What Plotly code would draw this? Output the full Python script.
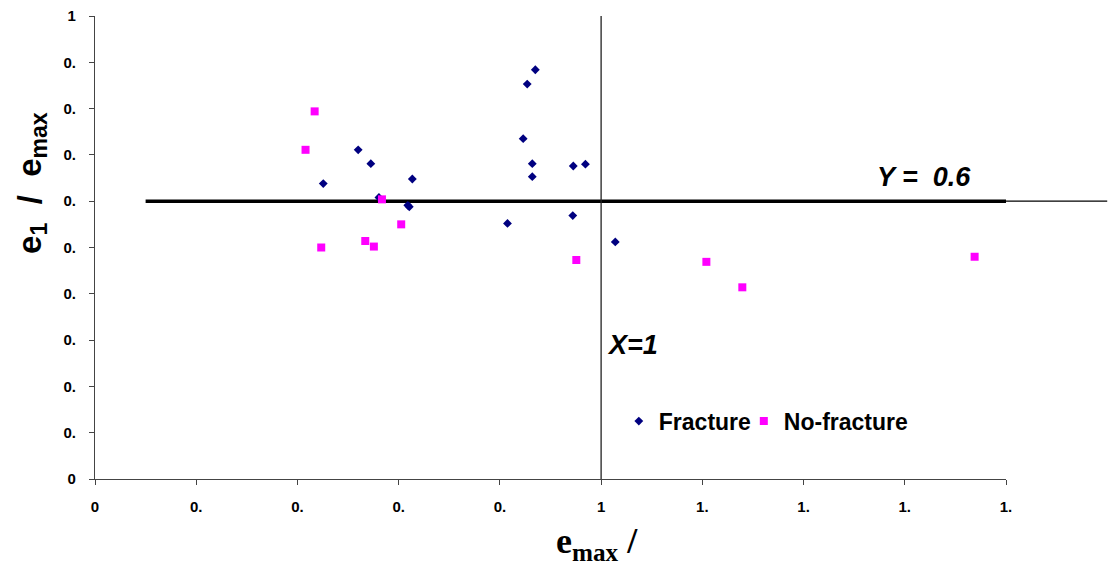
import plotly.graph_objects as go

# ---- data ----
fracture_x = [0.451, 0.520, 0.545, 0.561, 0.618, 0.621, 0.627, 0.815, 0.846,
              0.854, 0.870, 0.864, 0.864, 0.944, 0.945, 0.969, 1.028]
fracture_y = [0.638, 0.711, 0.681, 0.608, 0.591, 0.588, 0.648, 0.552, 0.735,
              0.853, 0.884, 0.681, 0.653, 0.569, 0.676, 0.680, 0.512]

nofracture_x = [0.416, 0.434, 0.447, 0.534, 0.551, 0.567, 0.605, 0.951,
                1.208, 1.279, 1.738]
nofracture_y = [0.711, 0.794, 0.500, 0.514, 0.502, 0.604, 0.550, 0.473,
                0.469, 0.414, 0.480]

limit_line_x = [0.1, 1.8]
limit_line_y = [0.6, 0.6]
vert_line_x = [1.0, 1.0]
vert_line_y = [0.0, 1.0]

x_tickvals = [0, 0.2, 0.4, 0.6, 0.8, 1.0, 1.2, 1.4, 1.6, 1.8]
x_ticktext = ["0", "0.", "0.", "0.", "0.", "1", "1.", "1.", "1.", "1."]
y_tickvals = [0, 0.1, 0.2, 0.3, 0.4, 0.5, 0.6, 0.7, 0.8, 0.9, 1.0]
y_ticktext = ["0", "0.", "0.", "0.", "0.", "0.", "0.", "0.", "0.", "0.", "1"]

SANS = "Liberation Sans, Arial, sans-serif"
SERIF = "Liberation Serif, Times New Roman, serif"

fig = go.Figure()

fig.add_trace(go.Scatter(x=limit_line_x, y=limit_line_y, mode="lines",
                         line=dict(color="black", width=3.5),
                         showlegend=False, hoverinfo="skip"))
fig.add_trace(go.Scatter(x=vert_line_x, y=vert_line_y, mode="lines",
                         line=dict(color="#222222", width=1.3),
                         showlegend=False, hoverinfo="skip"))

fig.add_trace(go.Scatter(x=fracture_x, y=fracture_y, mode="markers",
                         name="Fracture", legend="legend",
                         marker=dict(symbol="diamond", size=6.8, color="#000080")))
fig.add_trace(go.Scatter(x=nofracture_x, y=nofracture_y, mode="markers",
                         name="No-fracture", legend="legend2",
                         marker=dict(symbol="square", size=8, color="#FF00FF")))

# thin extension of the Y = 0.6 line beyond the plot area
fig.add_shape(type="line", xref="paper", yref="y",
              x0=1.0 / 1.8, x1=2.0 / 1.8, y0=0.6, y1=0.6,
              line=dict(color="black", width=1.2), layer="below")

fig.add_annotation(x=1.638, y=0.652, xref="x", yref="y",
                   text="<b><i>Y =  0.6</i></b>", showarrow=False,
                   font=dict(family=SANS, size=27, color="black"))
fig.add_annotation(x=1.062, y=0.289, xref="x", yref="y",
                   text="<b><i>X=1</i></b>", showarrow=False,
                   font=dict(family=SANS, size=27, color="black"))

# axis titles
fig.add_annotation(x=-0.07, y=0.64, xref="paper", yref="paper",
                   text="<b>e<sub>1</sub>\u00a0 /\u00a0 e<sub>max</sub></b>",
                   textangle=-90, showarrow=False,
                   xanchor="center", yanchor="middle",
                   font=dict(family=SANS, size=33, color="black"))
fig.add_annotation(x=0.551, y=-0.14, xref="paper", yref="paper",
                   text="<b>e<sub>max</sub> /</b>", showarrow=False,
                   xanchor="center", yanchor="middle",
                   font=dict(family=SERIF, size=36, color="black"))

legend_common = dict(orientation="h", y=0.125, xanchor="left",
                     yanchor="middle", bgcolor="rgba(0,0,0,0)",
                     font=dict(family=SANS, size=23, color="black", weight="bold"),
                     itemwidth=30, tracegroupgap=0)

fig.update_layout(
    width=1112, height=572,
    margin=dict(l=95, r=106, t=16, b=93),
    paper_bgcolor="white", plot_bgcolor="white",
    showlegend=True,
    legend=dict(x=0.575, **legend_common),
    legend2=dict(x=0.7122, **legend_common),
    xaxis=dict(range=[0, 1.8], showgrid=False, zeroline=False,
               showline=True, linecolor="#444444", linewidth=1.2,
               ticks="outside", ticklen=5, tickcolor="#444444",
               tickvals=x_tickvals, ticktext=x_ticktext,
               ticklabelstandoff=9, automargin=False,
               tickfont=dict(family=SANS, size=15, color="black", weight="bold")),
    yaxis=dict(range=[0, 1.0], showgrid=False, zeroline=False,
               showline=True, linecolor="#444444", linewidth=1.2,
               ticks="outside", ticklen=5, tickcolor="#444444",
               tickvals=y_tickvals, ticktext=y_ticktext,
               ticklabelstandoff=10, automargin=False,
               tickfont=dict(family=SANS, size=15, color="black", weight="bold")),
)

fig.write_html("out.html", config={"displayModeBar": False},
               post_script="document.body.style.margin='0px';")
